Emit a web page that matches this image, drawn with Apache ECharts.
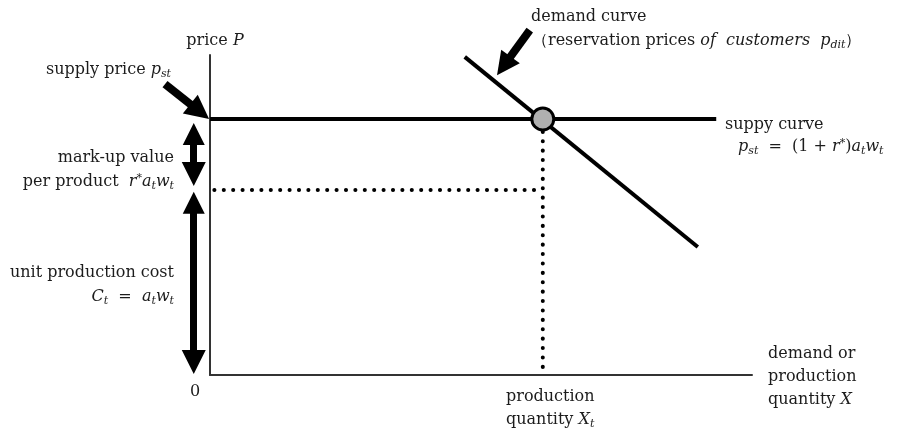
<!DOCTYPE html>
<html>
<head>
<meta charset="utf-8">
<script src="https://cdn.jsdelivr.net/npm/echarts@6/dist/echarts.min.js"></script>
<style>
  html, body { margin: 0; padding: 0; background: #fff; }
  #main { width: 898px; height: 431px; }
</style>
</head>
<body>
<div id="main"></div>
<script>
// axis range (abstract units)
const xRange = [0, 100];
const yRange = [0, 100];

// key levels
const supplyPrice = 80;   // p_st
const unitCost = 57.8;    // C_t
const eqQuantity = 61.4;  // X_t

// curves
const supplyCurve = [[0, supplyPrice], [93.4, supplyPrice]];
const demandCurve = [[47, 99.4], [90, 40]];
const equilibrium = [[eqQuantity, supplyPrice]];

// dotted guides
const costGuide = [[0.8, unitCost], [eqQuantity, unitCost]];
const quantityGuide = [[eqQuantity, 76], [eqQuantity, 0.8]];

// annotation arrows [from, to] (arrowhead centres)
const markupArrow = [[-3, 75.3], [-3, 62.8]];
const costArrow = [[-3, 53.8], [-3, 4.1]];
const supplyPriceArrow = [[-8.3, 90.9], [-1.9, 82.3]];
const demandArrow = [[59, 107.8], [54.2, 96.6]];

const FONT = '"DejaVu Serif", serif';
const TXT = '#1c1c1c';
const rich = {
  n: { fontFamily: FONT, fontSize: 16, color: TXT },
  i: { fontFamily: FONT, fontSize: 16, fontStyle: 'italic', color: TXT },
  sub: { fontFamily: FONT, fontSize: 11, fontStyle: 'italic', color: TXT, padding: [9, 0, 0, 0] },
  sup: { fontFamily: FONT, fontSize: 11, color: TXT, padding: [0, 0, 7, 0] }
};

function label(x, y, text, align) {
  return {
    type: 'text', x: x, y: y, silent: true,
    style: { text: text, rich: rich, align: align || 'left', verticalAlign: 'middle',
             font: '16px ' + FONT, fill: TXT }
  };
}

function arrow(data, both, width, size) {
  return {
    type: 'lines', coordinateSystem: 'cartesian2d', polyline: false, clip: false,
    symbol: [both ? 'triangle' : 'none', 'triangle'], symbolSize: size,
    lineStyle: { color: '#000', width: width, opacity: 1 },
    data: [{ coords: data }], silent: true, z: 5
  };
}

const chart = echarts.init(document.getElementById('main'));
chart.setOption({
  animation: false,
  grid: { left: 210, right: 146, top: 55, bottom: 56 },
  xAxis: {
    type: 'value', min: xRange[0], max: xRange[1],
    axisLine: { show: true, lineStyle: { color: '#333', width: 2 } },
    axisTick: { show: false }, axisLabel: { show: false }, splitLine: { show: false }
  },
  yAxis: {
    type: 'value', min: yRange[0], max: yRange[1],
    axisLine: { show: true, lineStyle: { color: '#333', width: 2 } },
    axisTick: { show: false }, axisLabel: { show: false }, splitLine: { show: false }
  },
  series: [
    { type: 'line', data: supplyCurve, symbol: 'none', clip: false,
      lineStyle: { color: '#000', width: 4 }, z: 3 },
    { type: 'line', data: demandCurve, symbol: 'none', clip: false,
      lineStyle: { color: '#000', width: 4 }, z: 3 },
    { type: 'line', data: costGuide, symbol: 'none',
      lineStyle: { color: '#000', width: 4, type: [0.1, 9.3], cap: 'round' }, z: 2 },
    { type: 'line', data: quantityGuide, symbol: 'none',
      lineStyle: { color: '#000', width: 4, type: [0.1, 9.3], cap: 'round' }, z: 2 },
    arrow(markupArrow, true, 7, [22, 24]),
    arrow(costArrow, true, 7, [22, 24]),
    arrow(supplyPriceArrow, false, 8, [23, 24]),
    arrow(demandArrow, false, 8, [22, 23]),
    { type: 'scatter', data: equilibrium, symbol: 'circle', symbolSize: 22,
      itemStyle: { color: '#b0b0b0', borderColor: '#000', borderWidth: 3, opacity: 1 }, z: 10 }
  ],
  graphic: [
    label(215, 41, '{n|price }{i|P}', 'center'),
    label(171, 70, '{n|supply price }{i|p}{sub|st}', 'right'),
    label(174, 158, '{n|mark-up value}', 'right'),
    label(174, 182, '{n|per product  }{i|r}{sup|*}{i|a}{sub|t}{i|w}{sub|t}', 'right'),
    label(174, 273, '{n|unit production cost}', 'right'),
    label(174, 297, '{i|C}{sub|t}{n|  =  }{i|a}{sub|t}{i|w}{sub|t}', 'right'),
    label(195, 392, '{n|0}', 'center'),
    label(531, 17, '{n|demand curve}'),
    label(532, 41, '{n|（reservation prices }{i|of  customers  p}{sub|dit}{n|）}'),
    label(725, 125, '{n|suppy curve}'),
    label(738, 147, '{i|p}{sub|st}{n|  =  (1 + }{i|r}{sup|*}{n|)}{i|a}{sub|t}{i|w}{sub|t}'),
    label(506, 397, '{n|production}'),
    label(506, 420, '{n|quantity }{i|X}{sub|t}'),
    label(768, 354, '{n|demand or}'),
    label(768, 377, '{n|production}'),
    label(768, 400, '{n|quantity }{i|X}')
  ]
});
</script>
</body>
</html>
